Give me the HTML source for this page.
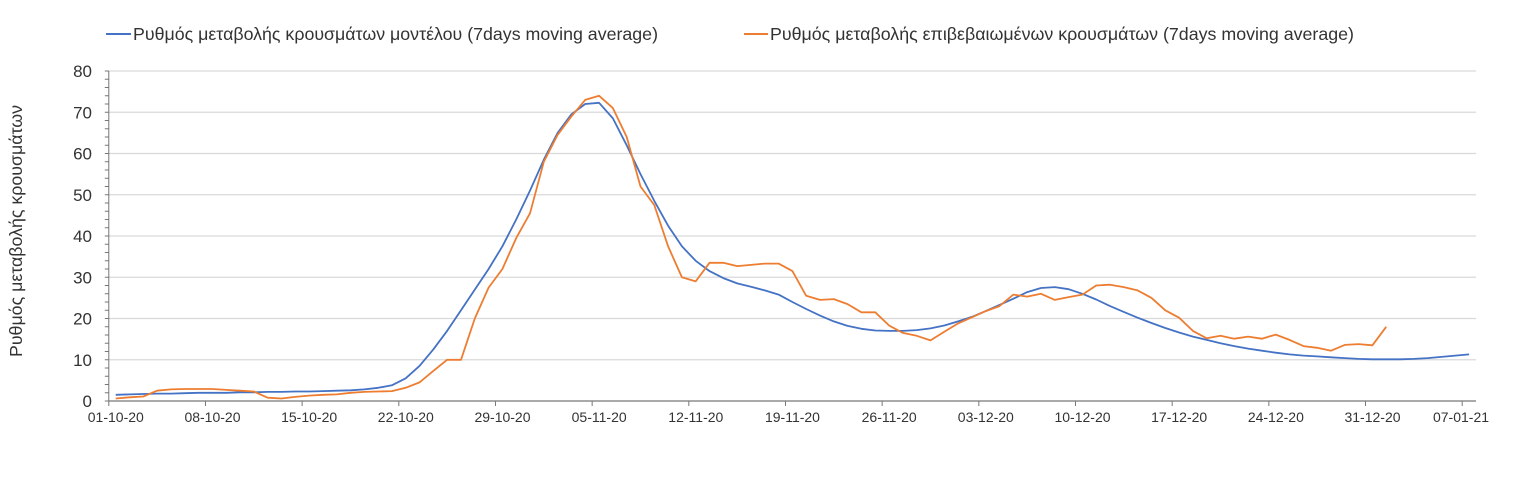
<!DOCTYPE html>
<html><head><meta charset="utf-8"><style>
body{margin:0;background:#fff;font-family:"Liberation Sans","DejaVu Sans",sans-serif;}
svg text{font-family:"Liberation Sans","DejaVu Sans",sans-serif;fill:#333;}
</style></head><body>
<svg id="chart" width="1513" height="479" viewBox="0 0 1513 479" xmlns="http://www.w3.org/2000/svg">
<g>
<g><line x1="106" y1="34" x2="131" y2="34" stroke="#4472c4" stroke-width="2"/><text x="133" y="40" font-size="17.8" textLength="525" lengthAdjust="spacingAndGlyphs">Ρυθμός μεταβολής κρουσμάτων μοντέλου (7days moving average)</text></g>
<g><line x1="744" y1="34" x2="768" y2="34" stroke="#ed7d31" stroke-width="2"/><text x="770" y="40" font-size="17.8" textLength="584" lengthAdjust="spacingAndGlyphs">Ρυθμός μεταβολής επιβεβαιωμένων κρουσμάτων (7days moving average)</text></g>
</g>
<text transform="translate(22,231) rotate(-90)" text-anchor="middle" font-size="17.8">Ρυθμός μεταβολής κρουσμάτων</text>
<g id="grid"></g><g id="axes"></g><g id="series"></g>
</svg>
<script>
const xTickLabels=["01-10-20","08-10-20","15-10-20","22-10-20","29-10-20","05-11-20","12-11-20","19-11-20","26-11-20","03-12-20","10-12-20","17-12-20","24-12-20","31-12-20","07-01-21"];
const yTicks=[0,10,20,30,40,50,60,70,80];
const modelSeries=[1.5,1.6,1.7,1.8,1.8,1.9,2,2,2,2.1,2.1,2.2,2.2,2.3,2.3,2.4,2.5,2.6,2.8,3.2,3.8,5.5,8.5,12.5,17,22,27,32,37.5,44,51,58.5,65,69.5,72,72.3,68.5,62,55,48.5,42.5,37.5,34,31.5,29.8,28.5,27.7,26.8,25.8,24,22.3,20.7,19.3,18.2,17.5,17.1,17,17,17.2,17.6,18.3,19.3,20.4,21.8,23.3,24.8,26.4,27.4,27.6,27.1,26,24.6,23,21.6,20.2,18.9,17.7,16.6,15.6,14.8,14,13.3,12.7,12.2,11.7,11.3,11,10.8,10.6,10.4,10.2,10.1,10.1,10.1,10.2,10.4,10.7,11,11.3];
const confirmedSeries=[0.6,0.9,1.1,2.5,2.8,2.9,2.9,2.9,2.7,2.5,2.3,0.8,0.6,1.0,1.3,1.5,1.6,2.0,2.2,2.3,2.4,3.2,4.5,7.3,10,10,20,27.5,32,39.5,45.5,58,64.5,69,73,74,71,64,52,47.5,37.5,30,29,33.5,33.5,32.7,33,33.3,33.3,31.5,25.5,24.5,24.7,23.5,21.5,21.5,18.3,16.5,15.8,14.7,16.8,18.8,20.3,21.8,23,25.8,25.3,26,24.5,25.2,25.8,28,28.2,27.6,26.8,25,22,20.2,17,15.2,15.8,15.1,15.6,15.1,16.1,14.8,13.3,12.9,12.2,13.6,13.8,13.5,18];
const X0=108.8,DX=13.81,Y0=401,YK=4.125,XR=1476;
const xs=d=>X0+DX*d, ys=v=>Y0-YK*v;
const NS="http://www.w3.org/2000/svg";
function mk(t,a,p){const e=document.createElementNS(NS,t);for(const k in a)e.setAttribute(k,a[k]);p.appendChild(e);return e;}
const grid=document.getElementById('grid'),axes=document.getElementById('axes'),ser=document.getElementById('series');
yTicks.forEach(v=>{
  if(v>0){const g=mk('line',{x1:X0,x2:XR,y1:ys(v),y2:ys(v),stroke:'#d9d9d9','stroke-width':1.3},grid);
  
  }
  const t=mk('text',{x:92,y:ys(v)+6,'text-anchor':'end','font-size':17},axes);t.textContent=v;
  
  
});
for(let v=0;v<=80;v+=2){mk('line',{x1:X0-4,x2:X0,y1:ys(v),y2:ys(v),stroke:'#777','stroke-width':1},axes);}
const ya=mk('line',{x1:X0,x2:X0,y1:ys(80),y2:Y0,stroke:'#777','stroke-width':1},axes);


const xa=mk('line',{x1:X0,x2:XR,y1:Y0,y2:Y0,stroke:'#777','stroke-width':1.3},axes);


xTickLabels.forEach((l,i)=>{
  const x=xs(i*7);
  mk('line',{x1:x,x2:x,y1:Y0,y2:Y0+5,stroke:'#777'},axes);
  const t=mk('text',{x:Math.min(x+7,1461),y:Y0+21,'text-anchor':'middle','font-size':14},axes);t.textContent=l;
  
  
});
function line(arr,col,name){
  const p=mk('polyline',{points:arr.map((v,i)=>xs(i+0.5).toFixed(1)+','+ys(v).toFixed(1)).join(' '),fill:'none',stroke:col,'stroke-width':1.8,'stroke-linejoin':'round'},ser);
  
  
}
line(modelSeries,'#4472c4','model-series-line');
line(confirmedSeries,'#ed7d31','confirmed-series-line');
</script>
</body></html>
